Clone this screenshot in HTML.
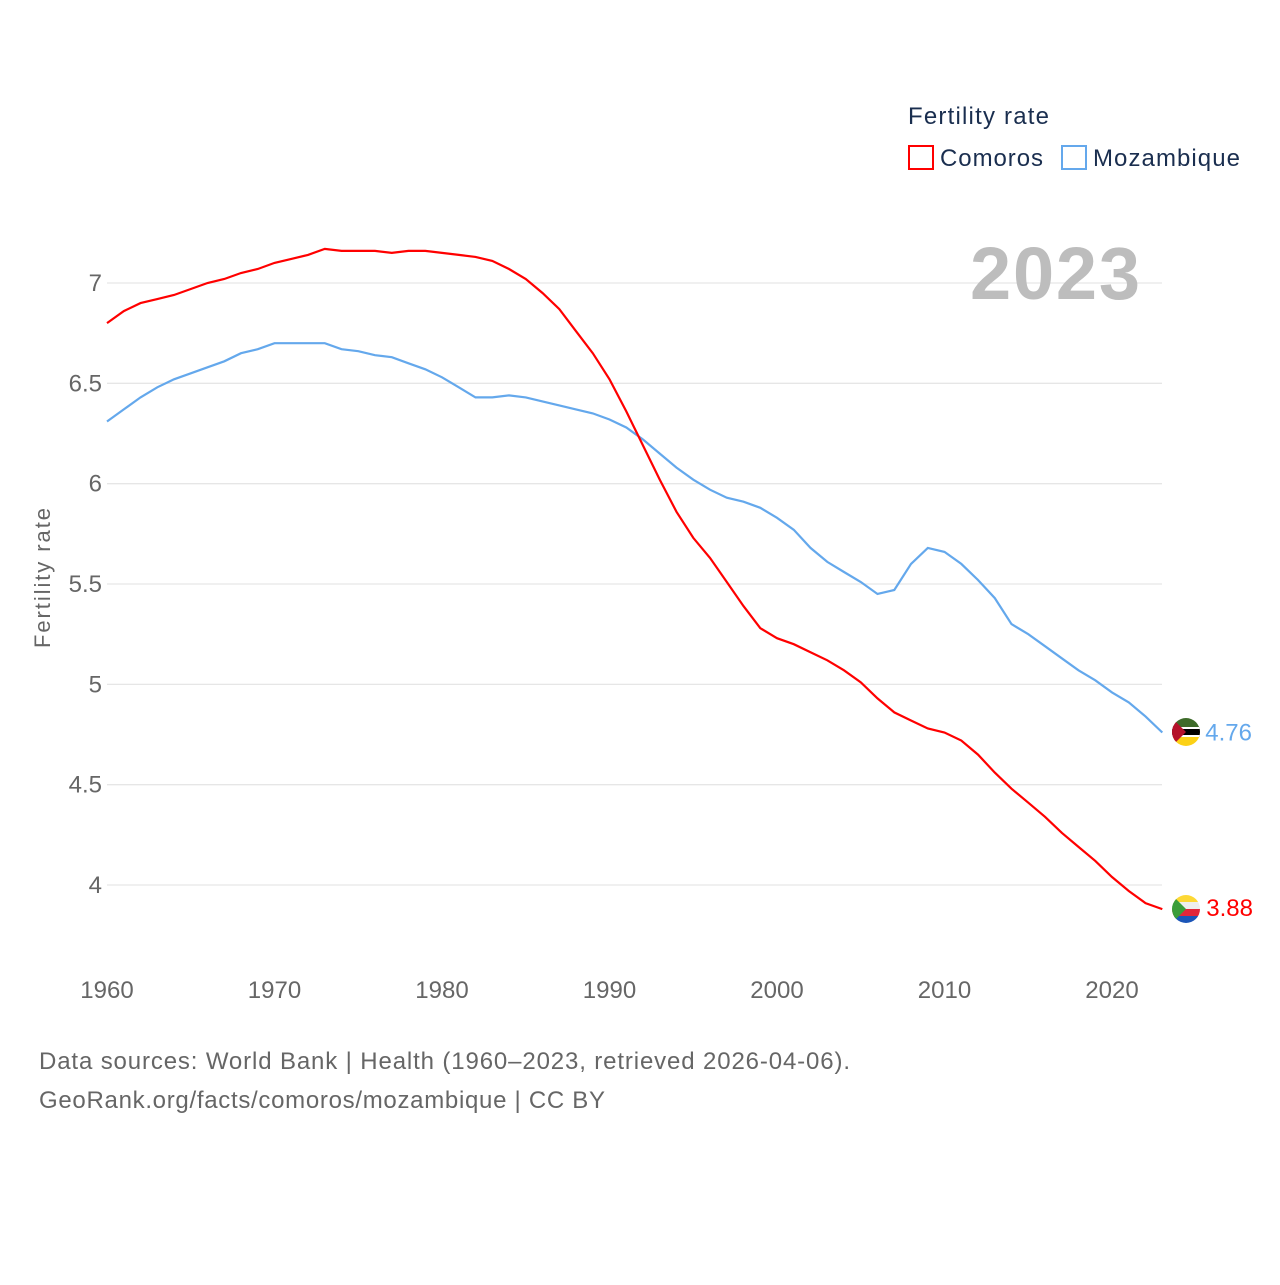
<!DOCTYPE html>
<html><head><meta charset="utf-8"><style>
body{margin:0;background:#fff;}
svg text{font-family:"Liberation Sans",sans-serif;}
</style></head><body>
<svg width="1280" height="1280" xmlns="http://www.w3.org/2000/svg">
<defs>
<clipPath id="c1"><circle cx="1186" cy="732" r="14"/></clipPath>
<clipPath id="c2"><circle cx="1186" cy="909" r="14"/></clipPath>
</defs>
<g id="grid"></g>
<g id="yticks"></g>
<g id="xticks"></g>
<text x="50" y="578" transform="rotate(-90 50 578)" text-anchor="middle" font-size="22" fill="#666" textLength="140">Fertility rate</text>
<text x="1140" y="299" text-anchor="end" font-size="74" font-weight="bold" fill="#bdbdbd" textLength="170">2023</text>
<g>
<text x="908" y="124" font-size="24" fill="#1a2e4f" textLength="141">Fertility rate</text>
<g><rect x="909" y="146" width="24" height="23" fill="none" stroke="#ff0000" stroke-width="2"/><text x="940" y="166" font-size="24" fill="#1a2e4f" textLength="103">Comoros</text></g>
<g><rect x="1062" y="146" width="24" height="23" fill="none" stroke="#64a8ec" stroke-width="2"/><text x="1093" y="166" font-size="24" fill="#1a2e4f" textLength="147">Mozambique</text></g>
</g>
<path id="moz" fill="none" stroke="#64a8ec" stroke-width="2.2"/>
<path id="com" fill="none" stroke="#ff0000" stroke-width="2.2"/>
<g clip-path="url(#c1)">
<rect x="1172" y="718" width="28" height="9" fill="#3e6b2a"/><rect x="1172" y="727" width="28" height="10" fill="#000"/><rect x="1172" y="727" width="28" height="2" fill="#fff"/><rect x="1172" y="735" width="28" height="2" fill="#fff"/><rect x="1172" y="737" width="28" height="9" fill="#fcd116"/><polygon points="1172,718 1186,732 1172,746" fill="#b5122a"/></g>
<g clip-path="url(#c2)">
<rect x="1172" y="895" width="28" height="7" fill="#fdd835"/><rect x="1172" y="902" width="28" height="7" fill="#eee"/><rect x="1172" y="909" width="28" height="7" fill="#e2263a"/><rect x="1172" y="916" width="28" height="7" fill="#1b55b8"/><polygon points="1172,895 1186,909 1172,923" fill="#3a9d3a"/></g>
<text id="lmoz" font-size="24" fill="#64a8ec"></text>
<text id="lcom" font-size="24" fill="#ff0000"></text>
<text x="39" y="1069" font-size="24" fill="#666" textLength="811">Data sources: World Bank | Health (1960–2023, retrieved 2026-04-06).</text>
<text x="39" y="1108" font-size="24" fill="#666" textLength="566">GeoRank.org/facts/comoros/mozambique | CC BY</text>
</svg>
<script>
const startYear = 1960;
const yTicks = [4, 4.5, 5, 5.5, 6, 6.5, 7];
const yTickLabels = ["4", "4.5", "5", "5.5", "6", "6.5", "7"];
const xTicks = [1960, 1970, 1980, 1990, 2000, 2010, 2020];
const comoros = [6.80,6.86,6.90,6.92,6.94,6.97,7.00,7.02,7.05,7.07,7.10,7.12,7.14,7.17,7.16,7.16,7.16,7.15,7.16,7.16,7.15,7.14,7.13,7.11,7.07,7.02,6.95,6.87,6.76,6.65,6.52,6.36,6.19,6.02,5.86,5.73,5.63,5.51,5.39,5.28,5.23,5.20,5.16,5.12,5.07,5.01,4.93,4.86,4.82,4.78,4.76,4.72,4.65,4.56,4.48,4.41,4.34,4.26,4.19,4.12,4.04,3.97,3.91,3.88];
const mozambique = [6.31,6.37,6.43,6.48,6.52,6.55,6.58,6.61,6.65,6.67,6.70,6.70,6.70,6.70,6.67,6.66,6.64,6.63,6.60,6.57,6.53,6.48,6.43,6.43,6.44,6.43,6.41,6.39,6.37,6.35,6.32,6.28,6.22,6.15,6.08,6.02,5.97,5.93,5.91,5.88,5.83,5.77,5.68,5.61,5.56,5.51,5.45,5.47,5.60,5.68,5.66,5.60,5.52,5.43,5.30,5.25,5.19,5.13,5.07,5.02,4.96,4.91,4.84,4.76];
const X = yr => 107 + (yr - 1960) * 16.75;
const Y = v => 283 + (7 - v) * 200.67;
const NS = "http://www.w3.org/2000/svg";
const grid = document.getElementById('grid'), yt = document.getElementById('yticks'), xt = document.getElementById('xticks');
yTicks.forEach((v, i) => {
  const l = document.createElementNS(NS, 'line');
  l.setAttribute('x1', 107); l.setAttribute('x2', 1162);
  l.setAttribute('y1', Y(v)); l.setAttribute('y2', Y(v));
  l.setAttribute('stroke', '#e6e6e6'); l.setAttribute('stroke-width', 1.3);
  
  
  grid.appendChild(l);
  const t = document.createElementNS(NS, 'text');
  t.setAttribute('x', 102); t.setAttribute('y', Y(v) + 8);
  t.setAttribute('text-anchor', 'end'); t.setAttribute('font-size', 24); t.setAttribute('fill', '#666');
  t.textContent = yTickLabels[i];
  
  
  yt.appendChild(t);
});
xTicks.forEach(yr => {
  const t = document.createElementNS(NS, 'text');
  t.setAttribute('x', X(yr)); t.setAttribute('y', 998);
  t.setAttribute('text-anchor', 'middle'); t.setAttribute('font-size', 24); t.setAttribute('fill', '#666');
  t.textContent = yr;
  
  
  xt.appendChild(t);
});
const path = arr => arr.map((v, i) => (i ? 'L' : 'M') + X(startYear + i).toFixed(1) + ' ' + Y(v).toFixed(1)).join(' ');
document.getElementById('com').setAttribute('d', path(comoros));
document.getElementById('moz').setAttribute('d', path(mozambique));
const last = startYear + comoros.length - 1;
const lm = document.getElementById('lmoz'), lc = document.getElementById('lcom');
lm.setAttribute('x', X(last) + 43); lm.setAttribute('y', Y(mozambique[mozambique.length - 1]) + 8);
lm.textContent = mozambique[mozambique.length - 1].toFixed(2);
lc.setAttribute('x', X(last) + 44); lc.setAttribute('y', Y(comoros[comoros.length - 1]) + 7);
lc.textContent = comoros[comoros.length - 1].toFixed(2);
</script>
</body></html>
